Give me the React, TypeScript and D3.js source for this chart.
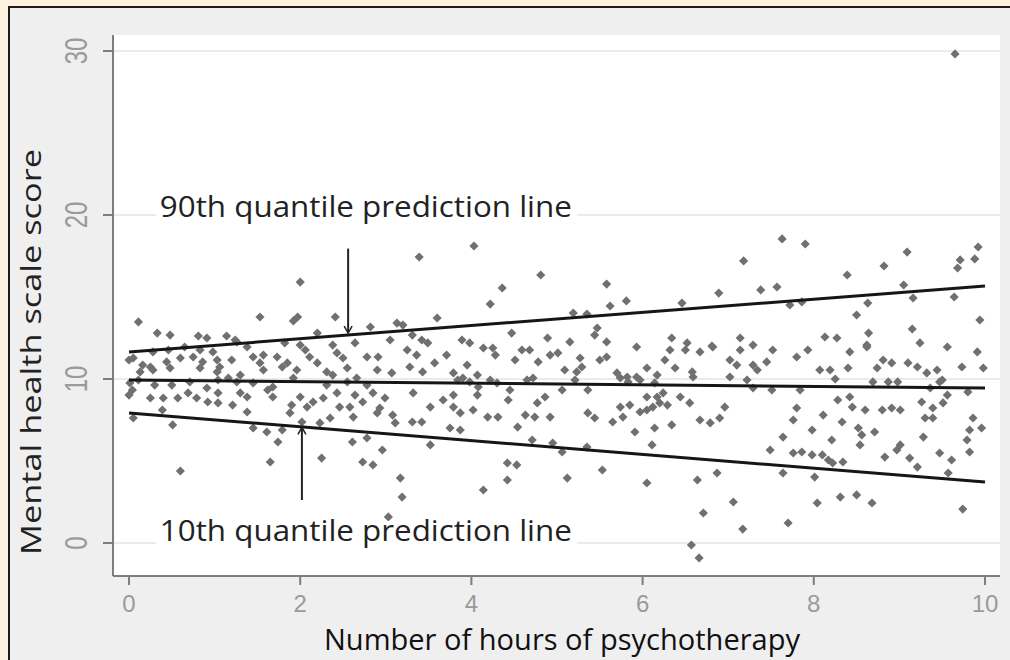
import * as d3 from 'd3'

const W = 1010
const H = 660
// white plot panel and axis lines
const PANEL = { left: 113, top: 35, right: 1000, bottom: 576 }

const xTicks = [0, 2, 4, 6, 8, 10]
const yTicks = [0, 10, 20, 30]
const xTitle = 'Number of hours of psychotherapy'
const yTitle = 'Mental health scale score'

// quantile regression lines, value at 0 h and at 10 h
const lineHours = [0, 10]
const q90 = [11.65, 15.67]
const q50 = [9.94, 9.45]
const q10 = [7.93, 3.72]

// [hours, score]
const points: [number, number][] = [
  [2.0, 15.91], [3.39, 17.44], [4.03, 18.11], [4.36, 15.55], [4.22, 14.57], [4.81, 16.34],
  [5.58, 15.79], [5.62, 14.45], [5.81, 14.76], [5.19, 14.02], [5.35, 13.96], [7.18, 17.2],
  [7.63, 18.54], [7.9, 18.23], [6.89, 15.24], [6.46, 14.63], [7.38, 15.43], [7.57, 15.61],
  [8.39, 16.34], [8.82, 16.89], [9.09, 17.74], [9.05, 15.73], [9.71, 17.26], [9.68, 16.77],
  [9.88, 17.32], [9.92, 18.05], [9.94, 13.6], [9.64, 15.0], [9.16, 14.94], [8.63, 14.63],
  [8.5, 13.9], [9.15, 13.05], [7.72, 14.51], [7.86, 14.7], [6.81, 12.01], [9.65, 29.82],
  // 0 - 4.3 h
  [0.11, 13.48], [1.53, 13.78], [1.97, 13.78], [1.92, 13.54], [2.41, 13.78],
  [0.33, 12.8], [0.48, 12.68], [0.81, 12.62], [0.91, 12.5], [1.14, 12.62], [1.24, 12.38],
  [2.2, 12.8], [2.82, 13.17], [3.13, 13.41], [3.2, 13.29], [3.6, 13.72],
  [0.28, 11.65], [0.46, 11.77], [0.65, 11.95], [0.83, 11.77], [0.98, 11.65], [1.26, 12.26],
  [1.38, 11.95], [1.82, 12.2], [2.0, 12.07], [2.06, 11.77], [2.38, 12.07], [2.64, 12.2],
  [3.05, 12.38], [3.31, 12.68], [3.42, 12.38], [3.49, 12.2], [3.89, 12.38], [3.98, 12.2],
  [4.14, 11.89], [4.25, 11.89],
  [0.0, 11.16], [0.05, 11.28], [0.16, 10.85], [0.25, 10.73], [0.44, 11.04], [0.6, 11.28],
  [0.75, 11.34], [0.86, 11.04], [1.03, 11.16], [1.06, 10.73], [1.2, 11.16], [1.45, 11.34],
  [1.57, 11.46], [1.53, 10.98], [1.73, 11.34], [1.85, 10.98], [2.11, 11.34], [2.2, 10.98],
  [2.43, 11.59], [2.5, 11.28], [2.78, 11.34], [2.91, 11.34], [3.25, 11.77], [3.36, 11.46],
  [3.57, 10.98], [3.71, 11.46], [3.95, 10.85], [4.28, 11.46],
  [0.13, 10.43], [0.28, 10.55], [0.48, 10.67], [0.83, 10.67], [1.03, 10.43], [1.3, 10.24],
  [1.57, 10.55], [1.79, 10.73], [1.96, 10.55], [2.31, 10.43], [2.38, 10.24], [2.55, 10.67],
  [2.9, 10.55], [3.07, 10.37], [3.28, 10.73], [3.43, 10.43], [3.79, 10.37], [3.9, 10.06],
  [4.07, 10.24], [4.22, 9.94],
  [0.01, 9.76], [0.11, 9.94], [0.3, 9.63], [0.5, 9.63], [0.71, 9.82], [1.04, 9.94],
  [1.16, 10.06], [1.26, 9.82], [1.45, 9.76], [1.68, 9.51], [1.92, 10.06], [2.31, 9.63],
  [2.55, 9.82], [2.66, 10.06], [2.78, 9.63], [3.84, 9.94], [3.98, 9.82], [4.08, 9.51],
  [4.3, 9.76],
  [0.0, 9.02], [0.04, 9.33], [0.25, 8.84], [0.4, 8.84], [0.57, 8.84], [0.69, 9.15],
  [0.79, 8.84], [0.91, 9.45], [1.04, 9.15], [1.3, 9.15], [1.38, 8.9], [1.62, 9.33],
  [1.68, 8.9], [2.0, 8.9], [2.27, 8.84], [2.43, 9.15], [2.64, 9.02], [2.85, 9.15],
  [2.99, 8.84], [3.32, 9.15], [3.67, 8.72], [3.79, 9.02], [4.07, 9.02],
  [0.39, 8.11], [0.92, 8.6], [1.04, 8.54], [1.21, 8.41], [1.38, 7.99], [1.9, 8.41],
  [2.08, 8.29], [2.15, 8.6], [2.46, 8.29], [2.58, 8.29], [2.73, 8.6], [2.93, 8.23],
  [3.52, 8.29], [3.79, 8.29], [3.87, 7.93], [4.19, 7.68],
  [0.05, 7.62], [0.51, 7.2], [1.45, 7.01], [1.61, 6.77], [1.79, 6.89], [1.88, 7.93],
  [2.02, 7.38], [2.23, 7.32], [2.35, 7.62], [2.62, 7.68], [2.9, 7.93], [3.08, 7.8],
  [3.11, 7.32], [3.31, 7.38], [3.42, 7.38], [3.75, 7.01], [3.87, 6.89], [4.02, 8.11],
  [4.31, 7.68],
  [1.74, 6.16], [2.61, 6.16], [2.78, 6.4], [2.96, 5.67], [3.52, 5.98], [1.65, 4.94],
  [2.25, 5.18], [2.73, 4.94], [2.85, 4.76], [0.6, 4.39], [3.17, 3.96], [3.19, 2.8],
  [4.14, 3.23], [3.03, 1.59],
  // 4.4 - 10 h
  [4.47, 12.8], [4.89, 12.5], [5.15, 12.26], [5.47, 13.11], [5.44, 12.68], [5.58, 12.26],
  [5.93, 11.95], [6.34, 12.5], [6.52, 12.2], [7.14, 12.5], [7.29, 12.07], [8.13, 12.56],
  [8.27, 12.5], [8.64, 12.8], [8.62, 12.07], [9.56, 11.95], [9.24, 12.2], [9.91, 11.65],
  [4.51, 11.16], [4.59, 11.77], [4.68, 11.77], [4.78, 11.04], [4.92, 11.46], [5.01, 11.59],
  [5.27, 11.28], [5.5, 11.16], [5.58, 11.34], [5.09, 10.55], [5.23, 10.43], [5.29, 10.73],
  [5.7, 10.37], [5.82, 10.12], [5.93, 10.12], [6.05, 10.67], [6.17, 10.24], [6.26, 11.16],
  [6.32, 11.77], [6.5, 11.77], [6.67, 11.65], [6.82, 11.95], [6.38, 10.67], [6.58, 10.43],
  [6.59, 10.12], [7.02, 11.16], [7.1, 10.85], [7.14, 11.77], [7.29, 10.85], [7.34, 10.55],
  [7.45, 11.04], [7.52, 11.77], [7.02, 10.12], [7.22, 9.94], [7.8, 11.34], [7.93, 11.77],
  [8.07, 10.55], [8.19, 10.55], [8.4, 10.67], [8.42, 11.65], [8.62, 11.95], [8.74, 10.67],
  [8.81, 11.16], [8.91, 10.98], [9.1, 10.98], [9.21, 10.73], [9.32, 10.37], [9.44, 10.55],
  [9.5, 9.94], [9.73, 10.73], [9.98, 10.67],
  [4.45, 9.33], [4.65, 9.94], [4.72, 10.06], [5.06, 9.33], [5.21, 9.94], [5.36, 9.33],
  [5.74, 10.06], [5.83, 9.82], [5.97, 9.94], [6.14, 9.76], [6.05, 8.9], [6.17, 8.9],
  [6.24, 9.15], [6.44, 8.9], [7.29, 9.45], [7.51, 9.33], [7.84, 9.33], [8.28, 8.72],
  [8.42, 8.9], [8.69, 9.82], [8.87, 9.82], [8.98, 9.82], [9.36, 9.45], [9.47, 9.82],
  [9.56, 9.02], [9.8, 9.21], [8.25, 10.0],
  [4.43, 8.72], [4.77, 8.54], [4.86, 8.9], [4.63, 7.8], [4.74, 7.68], [4.92, 7.68],
  [4.54, 7.07], [5.36, 7.93], [5.44, 7.62], [5.65, 7.38], [5.77, 7.68], [5.74, 8.29],
  [5.85, 8.41], [5.97, 7.99], [6.05, 8.11], [6.12, 8.29], [6.2, 8.54], [6.29, 8.41],
  [6.34, 7.2], [6.14, 7.01], [5.91, 6.77], [6.55, 8.54], [6.67, 7.5], [6.79, 7.32],
  [6.9, 7.62], [6.96, 8.29], [7.8, 8.23], [7.76, 7.5], [7.64, 6.46], [7.98, 6.89],
  [8.11, 7.8], [8.21, 6.28], [8.45, 8.29], [8.6, 8.11], [8.33, 7.38], [8.52, 7.01],
  [8.56, 6.59], [8.54, 5.98], [8.71, 6.77], [8.8, 8.11], [8.91, 8.23], [9.01, 8.11],
  [9.26, 8.6], [9.39, 8.23], [9.3, 7.62], [9.39, 7.62], [9.51, 8.54], [9.28, 6.46],
  [9.01, 5.98], [8.97, 5.67], [9.86, 7.62], [9.96, 7.01], [9.82, 6.89], [9.79, 6.28],
  [4.71, 6.28], [4.95, 6.1], [5.06, 5.55], [5.35, 5.85], [6.11, 5.98], [4.42, 4.88],
  [4.53, 4.76], [4.42, 3.84], [5.12, 3.96], [5.53, 4.45], [6.05, 3.66], [6.64, 3.84],
  [6.87, 4.27], [7.49, 5.67], [7.64, 4.27], [7.76, 5.49], [7.86, 5.55], [7.98, 5.37],
  [8.01, 4.02], [8.1, 5.37], [8.17, 5.06], [8.22, 4.88], [8.34, 4.94], [8.83, 5.24],
  [9.12, 5.18], [9.21, 4.63], [9.47, 5.49], [9.61, 5.06], [9.57, 4.27], [9.82, 5.55],
  [7.06, 2.5], [6.71, 1.83], [7.17, 0.85], [7.7, 1.22], [8.04, 2.44], [8.31, 2.8],
  [8.5, 2.93], [8.68, 2.44], [9.74, 2.07], [6.57, -0.12], [6.66, -0.91],
]

// annotations: label anchor and arrow (hours, from score, to score)
const notes = [
  { text: '90th quantile prediction line', hx: 0.36, sy: 19.88, arrow: [2.56, 17.95, 12.8] },
  { text: '10th quantile prediction line', hx: 0.36, sy: 0.12, arrow: [2.02, 2.62, 7.05] },
]

const x = d3.scaleLinear().domain([0, 10]).range([129, 985])
const y = d3.scaleLinear().domain([0, 30]).range([543, 51])

const diamond = d3.symbol(d3.symbolSquare, 42)()

export default function App() {
  const line = d3
    .line<number>()
    .x((_, i) => x(lineHours[i]))
    .y((d) => y(d))

  return (
    <svg
      width={W}
      height={H}
      style={{ position: 'absolute', left: 0, top: 0 }}
    >
      <rect width={W} height={H} fill="#fdf2e0" />
      <rect x={9} y={7} width={W + 10} height={H + 10} fill="#efefef" stroke="#1c1c1c" strokeWidth={2} />
      <rect
        x={PANEL.left}
        y={PANEL.top}
        width={PANEL.right - PANEL.left}
        height={PANEL.bottom - PANEL.top}
        fill="#ffffff"
      />

      {/* grid */}
      {yTicks.map((t) => (
        <line key={'g' + t} x1={PANEL.left} x2={PANEL.right} y1={y(t)} y2={y(t)} stroke="#ebebeb" strokeWidth={2} />
      ))}

      {/* axes */}
      <g stroke="#7d7d7d" strokeWidth={2}>
        <line x1={PANEL.left} x2={PANEL.left} y1={PANEL.top} y2={PANEL.bottom} />
        <line x1={PANEL.left} x2={PANEL.right} y1={PANEL.bottom} y2={PANEL.bottom} />
        {yTicks.map((t) => (
          <line key={t} x1={PANEL.left - 10} x2={PANEL.left} y1={y(t)} y2={y(t)} />
        ))}
        {xTicks.map((t) => (
          <line key={t} x1={x(t)} x2={x(t)} y1={PANEL.bottom} y2={PANEL.bottom + 9} />
        ))}
      </g>
      <g fontFamily="'Liberation Sans', Arial, sans-serif" fontSize={24} fill="#9a9a9a">
        {xTicks.map((t) => (
          <text key={t} x={x(t)} y={612} textAnchor="middle">
            {t}
          </text>
        ))}
        {yTicks.map((t) => (
          <text
            key={t}
            transform={`translate(87,${y(t)}) rotate(-90) scale(1,1.3)`}
            textAnchor="middle"
          >
            {t}
          </text>
        ))}
      </g>

      {/* points */}
      <g fill="#707070">
        {points.map(([h, s], i) => (
          <path key={i} d={diamond} transform={`translate(${x(h)},${y(s)}) rotate(45)`} />
        ))}
      </g>

      {/* quantile lines */}
      <g fill="none" stroke="#161616" strokeWidth={3}>
        <path d={line(q90) ?? ''} />
        <path d={line(q50) ?? ''} />
        <path d={line(q10) ?? ''} />
      </g>

      {/* annotations */}
      {notes.map((n) => {
        const [ah, a0, a1] = n.arrow
        const dir = a1 < a0 ? -1 : 1
        const tipY = y(a1)
        return (
          <g key={n.text}>
            <rect x={x(n.hx) - 4} y={y(n.sy) - 20} width={421} height={26} fill="#ffffff" />
            <text
              x={x(n.hx)}
              y={y(n.sy)}
              fontFamily="'Open Sans', 'Noto Sans', sans-serif"
              fontSize={29}
              fill="#222"
              textLength={412}
              lengthAdjust="spacingAndGlyphs"
            >
              {n.text}
            </text>
            <line x1={x(ah)} x2={x(ah)} y1={y(a0)} y2={tipY} stroke="#222" strokeWidth={2} />
            <path
              d={`M${x(ah) - 4},${tipY + dir * 7} L${x(ah)},${tipY} L${x(ah) + 4},${tipY + dir * 7}`}
              fill="none"
              stroke="#222"
              strokeWidth={1.5}
            />
          </g>
        )
      })}

      {/* axis titles */}
      <text
        x={562}
        y={650}
        textAnchor="middle"
        fontFamily="'Open Sans', 'Noto Sans', sans-serif"
        fontSize={29}
        fill="#111"
        textLength={476}
        lengthAdjust="spacingAndGlyphs"
      >
        {xTitle}
      </text>
      <text
        transform="translate(41,352) rotate(-90)"
        textAnchor="middle"
        fontFamily="'Open Sans', 'Noto Sans', sans-serif"
        fontSize={28}
        fill="#222"
        textLength={406}
        lengthAdjust="spacingAndGlyphs"
      >
        {yTitle}
      </text>
    </svg>
  )
}
